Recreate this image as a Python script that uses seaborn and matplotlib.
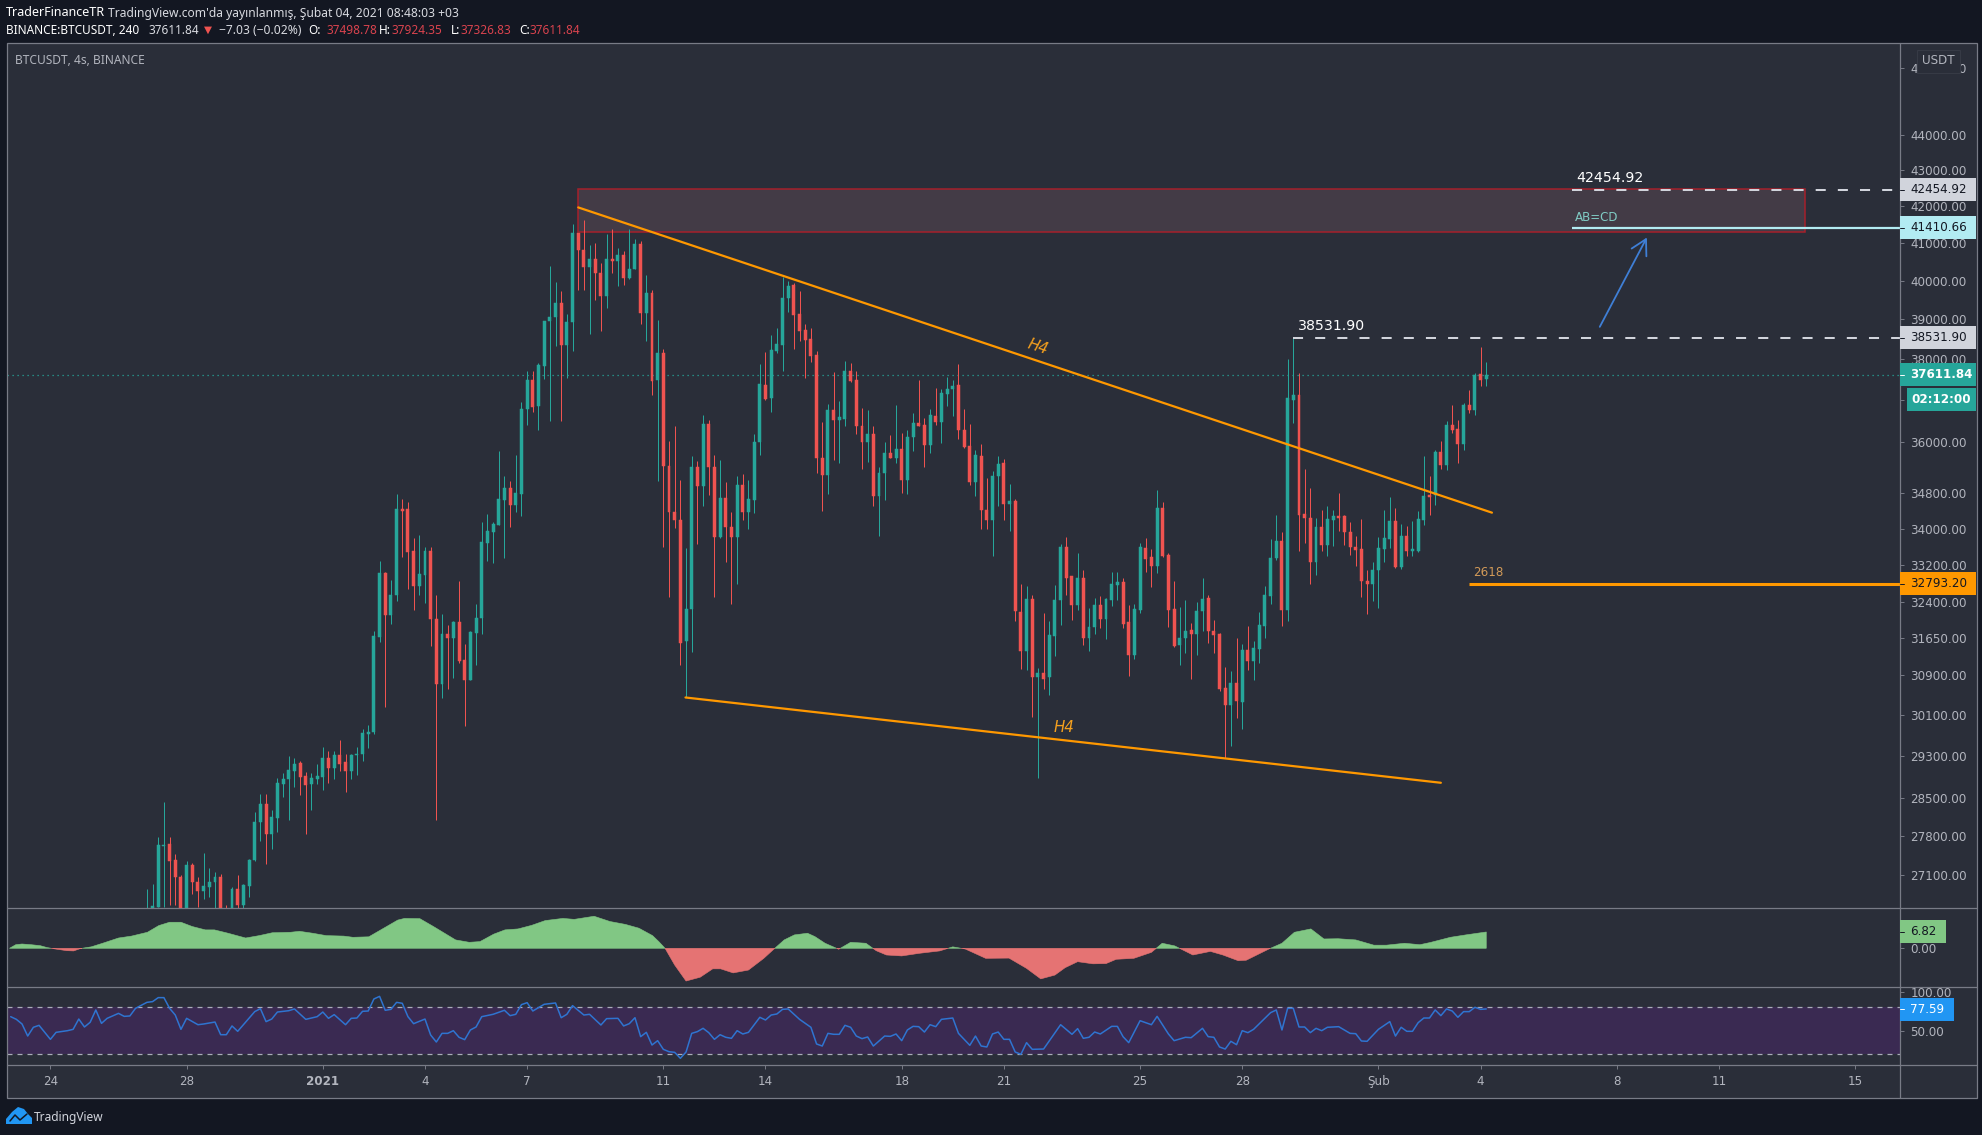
import matplotlib
matplotlib.use("Agg")
import matplotlib.pyplot as plt
import numpy as np
import pandas as pd
import seaborn as sns
from matplotlib.lines import Line2D
from matplotlib.patches import Polygon, Rectangle

first_bar = 17
opens = [
    26300, 26400, 26530, 27610, 27650, 27360, 27070, 26400, 27270, 26970,
    26820, 26890, 26965, 27070, 26450, 26400, 26850, 26575, 26910, 27360,
    28060, 28380, 27830, 28120, 28755, 28860, 29000, 29160, 28905, 28755,
    28860, 28895, 29265, 29060, 29305, 29175, 29010, 29315, 29330, 29715,
    29750, 31675, 33030, 32140, 32550, 34440, 34440, 33505, 32740, 32980,
    33505, 32055, 30710, 31730, 31650, 31980, 31200, 30790, 31760, 32070,
    33675, 33925, 34080, 34650, 34920, 34540, 34790, 36780, 37480, 36845,
    37825, 38955, 39050, 39425, 38345, 38930, 41280, 40810, 40360, 40580,
    40210, 39615, 40580, 40520, 40670, 40060, 40315, 40985, 39165, 39685,
    37480, 38155, 35435, 34385, 34205, 31580, 32260, 35405, 34970, 36415,
    35405, 33810, 34690, 34040, 33810, 34995, 34370, 34655, 35990, 37360,
    37030, 38195, 38345, 39540, 39900, 39150, 38725, 38490, 38110, 35610,
    35210, 36745, 36520, 36545, 37700, 37470, 36360, 35980, 36180, 34745,
    35265, 35730, 35610, 35825, 35095, 36100, 36440, 36400, 35925, 36615,
    36455, 37150, 37250, 37350, 36280, 35905, 35050, 35665, 34430, 34190,
    35190, 35490, 34560, 34630, 32190, 31380, 32475, 30850, 30935, 30850,
    31700, 32450, 33595, 32955, 32350, 32920, 31650, 31880, 32350, 32050,
    32450, 32770, 32830, 31975, 31290, 32240, 33575, 33370, 33170, 34465,
    33410, 32260, 31515, 31650, 31810, 31740, 32205, 32490, 31790, 31740,
    30630, 30300, 30735, 30345, 31400, 31175, 31425, 31905, 32540, 33355,
    33735, 32240, 37005, 37125, 34330, 34240, 33260, 34040, 33650, 34200,
    34290, 34275, 33920, 33595, 33560, 32860, 32795, 33085, 33560, 33780,
    34180, 33150, 33845, 33500, 33515, 34200, 34770, 34770, 35755, 35460,
    36400, 36300, 35950, 36860, 36760, 37620, 37498.78,
]
closes = [
    26400, 26560, 27630, 27630, 27340, 27060, 26400, 27270, 26970, 26820,
    26900, 26970, 27070, 26400, 26300, 26850, 26575, 26915, 27370, 28060,
    28380, 27830, 28140, 28780, 28860, 29020, 29150, 28895, 28735, 28880,
    28905, 29265, 29060, 29310, 29150, 29000, 29315, 29340, 29730, 29755,
    31690, 33030, 32140, 32565, 34440, 34400, 33490, 32740, 33000, 33505,
    32055, 30710, 31730, 31650, 31980, 31180, 30790, 31775, 32075, 33705,
    33950, 34100, 34665, 34920, 34540, 34805, 36780, 37480, 36830, 37840,
    38970, 39065, 39425, 38345, 38935, 41280, 40810, 40360, 40580, 40210,
    39615, 40580, 40520, 40670, 40060, 40315, 40985, 39165, 39685, 37455,
    38155, 35420, 34370, 34190, 31545, 32260, 35405, 34970, 36415, 35405,
    33810, 34690, 34040, 33810, 34995, 34370, 34670, 35990, 37375, 37025,
    38215, 38365, 39555, 39875, 39125, 38700, 38465, 38085, 35610, 35210,
    36745, 36520, 36585, 37700, 37455, 36360, 35980, 36180, 34745, 35265,
    35730, 35610, 35825, 35095, 36110, 36440, 36360, 35925, 36640, 36455,
    37170, 37265, 37335, 36265, 35870, 35050, 35690, 34415, 34190, 35205,
    35480, 34550, 34630, 32205, 31380, 32475, 30855, 30935, 30820, 31720,
    32450, 33595, 32930, 32350, 32920, 31650, 31880, 32350, 32050, 32475,
    32795, 32835, 31950, 31290, 32260, 33590, 33340, 33170, 34465, 33390,
    32240, 31480, 31650, 31790, 31740, 32220, 32475, 31790, 31720, 30610,
    30300, 30735, 30365, 31410, 31175, 31445, 31915, 32560, 33355, 33735,
    32240, 37045, 37125, 34300, 34230, 33260, 34030, 33650, 34215, 34290,
    34250, 33920, 33590, 33535, 32845, 32795, 33100, 33575, 33795, 34180,
    33150, 33845, 33515, 33550, 34215, 34730, 34715, 35755, 35460, 36400,
    36280, 35950, 36860, 36760, 37610, 37490, 37611.84,
]
highs = [
    26850, 26940, 27780, 28430, 27780, 27480, 27090, 27340, 27310, 27060,
    27490, 27230, 27150, 27120, 26575, 26890, 27090, 26930, 27390, 28230,
    28580, 28570, 28285, 28880, 28970, 29290, 29265, 29195, 28990, 28975,
    29150, 29470, 29385, 29385, 29600, 29340, 29330, 29470, 29815, 29890,
    31800, 33285, 33050, 32870, 34780, 34680, 34605, 33805, 33860, 33600,
    33600, 32550, 32160, 31920, 32010, 32855, 31525, 31800, 32360, 34160,
    34340, 34155, 35780, 35200, 35070, 35690, 36940, 37700, 37700, 37905,
    38970, 40385, 39970, 39725, 39140, 41505, 41280, 41615, 40940, 41010,
    40475, 41250, 41390, 40875, 40785, 41370, 41100, 41055, 40140, 39770,
    38995, 38255, 36005, 36375, 35110, 33575, 35650, 35535, 36640, 36505,
    35690, 35555, 35050, 34370, 35190, 35250, 35110, 36185, 37865, 38180,
    38615, 38785, 40105, 39990, 39945, 39725, 38870, 38785, 38195, 36455,
    36885, 37675, 36965, 37945, 37890, 37700, 36800, 36760, 36360, 35405,
    35980, 36165, 36860, 36200, 36265, 36685, 37480, 36560, 36780, 37290,
    37250, 37550, 37470, 37865, 36780, 36425, 35805, 35950, 35150, 35320,
    35650, 35600, 35020, 34670, 32795, 32750, 32560, 31040, 32170, 32000,
    32775, 33660, 33815, 32955, 33465, 33100, 32275, 32490, 32540, 32490,
    33060, 33040, 32915, 32350, 32370, 33680, 33795, 33550, 34880, 34600,
    33465, 32845, 32310, 32450, 31960, 32400, 32920, 32560, 32030, 31760,
    31060, 30970, 31650, 31530, 31890, 31585, 32190, 32750, 33770, 34315,
    33920, 37990, 38531.9, 37650, 35360, 34920, 34240, 34425, 34500, 34410,
    34805, 34315, 34140, 33830, 34215, 33085, 33260, 33815, 34425, 34715,
    34465, 34110, 34070, 34165, 34400, 35670, 35205, 35810, 36010, 36480,
    36860, 36520, 36920, 37230, 37660, 38290, 37924.35,
]
lows = [
    26200, 26300, 26530, 26540, 26575, 26575, 26300, 26350, 26760, 26530,
    26675, 26715, 26450, 26350, 26200, 26350, 26450, 26450, 26715, 27340,
    27710, 27300, 27560, 27875, 28510, 28090, 28705, 28550, 27830, 28285,
    28755, 28655, 28780, 28850, 29010, 28615, 28850, 28925, 29195, 29440,
    29715, 31570, 30255, 31940, 32430, 33365, 32690, 32230, 32565, 32385,
    31485, 28100, 30420, 30600, 30825, 31130, 29875, 30790, 31095, 31730,
    33285, 33255, 34080, 33355, 34040, 34370, 34280, 36400, 36700, 36280,
    37495, 36480, 38320, 36480, 37535, 38210, 39770, 39770, 38640, 39495,
    38700, 39285, 40210, 39860, 39900, 40050, 40300, 38870, 38450, 37105,
    35090, 33595, 32515, 34020, 31100, 30440, 31370, 33670, 34505, 34765,
    32515, 33795, 33260, 32370, 32780, 34190, 33995, 34355, 35690, 36990,
    36700, 38155, 37700, 39200, 38240, 38450, 37535, 37920, 35265, 34395,
    34790, 35575, 35495, 36360, 37440, 36185, 35360, 35510, 34505, 33835,
    34655, 35610, 35495, 34805, 34790, 35770, 36360, 35405, 35730, 36400,
    35965, 36845, 36600, 36060, 35845, 34995, 34730, 33995, 33995, 33390,
    34505, 34200, 33960, 32000, 31015, 31000, 30050, 28870, 30600, 30480,
    31275, 31930, 32560, 32030, 32240, 31495, 31380, 31740, 31860, 31620,
    32325, 32450, 31860, 30880, 31220, 32170, 33040, 32725, 33025, 33370,
    31880, 31465, 31095, 31345, 30820, 31290, 31790, 31550, 31345, 30565,
    29255, 29480, 30030, 29820, 31000, 30800, 31140, 31650, 32370, 33315,
    31905, 32000, 36450, 33500, 33680, 32795, 32990, 33500, 33390, 33610,
    33940, 33650, 33430, 33190, 32520, 32150, 32420, 32275, 33265, 33575,
    33135, 33120, 33405, 33390, 33480, 34075, 34315, 34540, 35360, 35345,
    36205, 35500, 35790, 36680, 36620, 37340, 37326.83,
]

osc_bars = [
    -7.2, -6.1, -5, -3.4, -1.8, -0.6, 0.9, 2.9, 4.1, 5.3, 7.2, 9.2, 12, 14.3, 17.1, 19.1, 21, 23, 25,
    27.3, 28.9, 31.3, 34.4, 36.8, 39.1, 42.3, 43.9, 46.2, 48.6, 51.7, 53.3, 56.1, 58, 61.2, 62.4, 65.1,
    67.5, 71.4, 73.8, 75.7, 78.1, 80.1, 82.4, 84.8, 87.2, 90.3, 92.3, 95.8, 98.6, 101.3, 103.7, 106.1,
    107.2, 108.3, 110, 112, 114.5, 116.7, 118.1, 120.3, 123, 125.7, 127.5, 129.3, 131.1, 133.4, 134.7,
    136.5, 138.9, 141, 143.7, 145.5, 147.3, 150, 153.1, 156.7, 159, 161.2, 164.8, 168.9, 172, 174.5,
    177, 178.8, 181, 183.7, 186, 187.8, 190.9, 194, 195.9, 198.1, 201.3, 204.4, 206.6, 209.3, 210.7,
    214.7, 217, 219.2, 222.1, 224.4, 226.9, 230, 233.2, 235.4, 238.6, 241.3, 243.1, 246.7, 249.4, 253,
]
osc_values = [
    0, 1.5, 1.8, 1.5, 1.1, 0.3, -0.3, -1.0, -1.1, -0.1, 0.6, 2.1, 4.3, 5.1, 6.7, 9.5, 10.9, 10.9, 9.1,
    7.7, 7.7, 6.3, 4.3, 5.3, 6.5, 6.7, 7.1, 6.3, 5.3, 5.1, 4.6, 4.8, 7.4, 11.8, 12.5, 12.4,
    9.1, 3.5, 2.5, 2.8, 5.9, 7.7, 8.1, 9.6, 11.6, 12.5, 12.1, 13.4, 11.2, 10, 8.4, 5.3,
    2.8, 0, -7, -13.7, -12.1, -8.6, -8.6, -10.3, -9.1, -4.2, -0.3, 3.5, 5.6, 6.3, 4.9,
    2.1, -0.4, 2.5, 2.1, -1, -2.8, -3.2, -2.1, -1.1, 0.6, -0.3, -4.2, -4.1, -8.4, -12.8,
    -11.2, -8.1, -5.6, -6.5, -6.4, -4.6, -4.2, -1.7, 2.1, 1, -2.8, -1.3, -2.8, -5.2, -5,
    -0.3, 2.1, 6.7, 8.1, 3.9, 4, 3.5, 1.3, 1.3, 2.1, 1.5, 2.4, 4.6, 5.6, 6.82,
]

rsi_bars = [
    -7, -6, -5, -4, -3, -2, 0, 1, 3, 4, 5, 6, 7, 8, 9, 10, 12, 13, 14, 15, 17, 18, 19, 20, 21, 22, 23, 24,
    26, 27, 29, 30, 31, 32, 33, 36, 37, 38, 39, 40, 42, 43, 45, 46, 47, 48, 49, 50, 52, 53, 54, 55, 56, 57,
    58, 59, 60, 61, 62, 63, 64, 66, 67, 68, 69, 70, 71, 72, 73, 74, 75, 76, 78, 80, 81, 82, 83, 84, 85, 87,
    89, 90, 91, 92, 94, 95, 97, 98, 100, 101, 102, 103, 104, 105, 106, 107, 108, 109, 110, 111, 112, 113,
    114, 115, 116, 117, 118, 119, 120, 121, 122, 123, 125, 126, 127, 128, 129, 130, 132, 133, 134, 135,
    136, 137, 138, 139, 140, 141, 142, 143, 144, 145, 147, 148, 149, 150, 151, 152, 153, 154, 155, 156,
    157, 159, 160, 162, 163, 164, 165, 166, 167, 168, 169, 170, 171, 172, 173, 175, 178, 180, 181, 182,
    183, 184, 185, 187, 188, 189, 190, 192, 194, 195, 197, 198, 200, 201, 203, 204, 205, 206, 207, 208,
    209, 210, 211, 212, 215, 216, 217, 218, 219, 220, 221, 222, 223, 224, 225, 227, 229, 230, 231, 232,
    234, 236, 237, 238, 239, 240, 241, 242, 243, 244, 245, 246, 247, 248, 249, 250, 251, 252, 253,
]
rsi_values = [
    68.2, 64.8, 58.9, 43.6, 54.7, 57.2, 39.4, 48.3, 50.4, 52.1, 65.2, 55.1, 61, 76.7, 59.7, 66.1, 72.4, 68.6,
    69.1, 78.8, 86.4, 87.3, 92.4, 92.4, 78.8, 70.3, 52.1, 66.1,
    58, 58.9, 61.4, 45.3, 45.3, 56.4, 49.6, 74.6, 78.4, 61.9, 65.2, 74.1, 75.8, 78, 64.8, 66.5, 68.2, 74.1,
    66.1, 70.8, 58, 66.1, 66.5, 75, 75.4, 90.7,
    94, 76.3, 77.5, 86.4, 85.2, 68.2, 59.3, 65.2, 44.9, 36, 47, 47, 50.4, 42, 39, 51.3, 55.1, 68.2, 71.2,
    76.3, 69.5, 71.2, 83.5, 86, 75.4, 83.9,
    85.6, 66.9, 71.2, 82.2, 70.3, 71.2, 57.6, 65.7, 66.1, 56.4, 59.3, 66.9, 42.8, 48.3, 32.2, 37.7, 26.7,
    23.7, 22.9, 15.3, 23.3, 47,
    49.2, 53.4, 47.9, 39.4, 45.3, 42, 40.7, 50.4, 46.2, 48.3, 67.4, 64, 70.3, 71.6, 77.5, 78, 64.8, 59.7,
    54.7, 33.5,
    30.9, 47, 45.8, 45.8, 57.2, 54.7, 43.6, 40.3, 42.4, 30.9, 43.6, 43.2, 46.2, 37.7, 51.3, 55.9, 55.5,
    48.7, 58, 55.5,
    64.8, 66.5, 47, 31.8, 43.6, 30.9, 29.7, 46.2, 48.7, 39.4, 39.4, 23.3, 20.4, 35.2, 26.7, 27.1, 58, 45.8,
    53, 40.7,
    42, 48.7, 46.2, 55.9, 55.9, 42.8, 35.2, 63.1, 58, 68.6, 46.2, 37.7, 42, 41.5, 53.4, 42.8, 42, 29.7,
    27.1, 36.9,
    32.6, 50.4, 47.9, 52.1, 73.3, 76.7, 51.3, 78.8, 78.8, 55.1, 55.1, 47.9, 53.4, 50.4, 54.7, 55.5, 47,
    46.6, 37.3, 36.9,
    52.1, 61.9, 43.6, 54.7, 49.6, 49.6, 60.6, 66.5, 66.5, 76.7, 69.5, 78, 75.4, 67.4, 74.6, 74.6, 80.1,
    77.5, 78,
]

price_ticks = [46000, 44000, 43000, 42000, 41000, 40000, 39000, 38000, 37000, 36000, 34800, 34000,
               33200, 32400, 31650, 30900, 30100, 29300, 28500, 27800, 27100]
date_ticks = [0, 24, 48, 66, 84, 108, 126, 150, 168, 192, 210, 234, 252, 276, 294, 318]
date_labels = ["24", "28", "2021", "4", "7", "11", "14", "18", "21", "25", "28", "Şub", "4", "8", "11", "15"]

PANE = "#2a2e39"
OUTER = "#131722"
FRAME = "#787b86"
TICK = "#b2b5be"
UP = "#26a69a"
DOWN = "#ef5350"
ORANGE = "#ff9800"
LIGHT = "#d1d4dc"
W, H = 1983, 1135

sns.set_theme(style="dark", rc={"axes.facecolor": PANE, "figure.facecolor": OUTER})
plt.rcParams["font.family"] = "DejaVu Sans"

fig = plt.figure(figsize=(W / 100, H / 100), dpi=100)


def pane(y_top, y_bottom):
    ax = fig.add_axes([7 / W, 1 - y_bottom / H, (1900 - 7) / W, (y_bottom - y_top) / H])
    for side in ax.spines:
        ax.spines[side].set_visible(False)
    ax.set_xlim(-7.648, 325.9)
    ax.set_xticks([])
    ax.yaxis.tick_right()
    ax.tick_params(axis="y", right=True, length=3, width=0.7, color=FRAME, colors=TICK, labelsize=8.6, pad=4.5)
    ax.set_xlabel("")
    ax.set_ylabel("")
    ax.grid(False)
    return ax


def fig_text(x, y, text, **kwargs):
    kwargs.setdefault("va", "center")
    kwargs.setdefault("zorder", 8)
    return fig.text(x / W, 1 - y / H, text, **kwargs)


def fig_line(xs, ys, color=FRAME, lw=0.9, zorder=3):
    fig.add_artist(Line2D(np.array(xs) / W, 1 - np.array(ys) / H, transform=fig.transFigure,
                          color=color, lw=lw, zorder=zorder))


def price_tag(ax, value, text, bg, fg, right=1976, bold=False, y=None, left=1900, text_x=1910):
    if y is None:
        y = H - ax.transData.transform((0, value))[1]
    fig.add_artist(Rectangle((left / W, 1 - (y + 11.5) / H), (right - left) / W, 23 / H,
                             transform=fig.transFigure, facecolor=bg, edgecolor="none", zorder=6))
    if left == 1900:
        fig_line([1900, 1904], [y, y], color=fg, lw=0.7, zorder=7)
    fig_text(text_x, y, text, color=fg, fontsize=8.6, fontweight="bold" if bold else "normal")


# background panel behind the three panes and the time scale
fig.add_artist(Rectangle((7 / W, 1 - 1098 / H), (1977 - 7) / W, (1098 - 43) / H, transform=fig.transFigure,
                         facecolor=PANE, edgecolor="none", zorder=-1))

ax_main = pane(43, 908)
ax_osc = pane(908, 987)
ax_rsi = pane(987, 1065)

# candles
candles = pd.DataFrame({"open": opens, "high": highs, "low": lows, "close": closes})
candles["bar"] = np.arange(first_bar, first_bar + len(candles))
candles["color"] = np.where(candles["close"] >= candles["open"], UP, DOWN)
candles["top"] = candles[["open", "close"]].max(axis=1)
candles["bottom"] = candles[["open", "close"]].min(axis=1)

ax_main.set_yscale("log")
ax_main.vlines(candles["bar"], candles["low"], candles["high"], colors=candles["color"], linewidth=0.72, zorder=3)
ax_main.bar(candles["bar"], candles["top"] - candles["bottom"], bottom=candles["bottom"], width=0.52,
            color=candles["color"], edgecolor=candles["color"], linewidth=0.35, zorder=4)
ax_main.set_ylim(26517, 46745)
ax_main.set_yticks(price_ticks)
ax_main.set_yticklabels([f"{t:.2f}" for t in price_ticks])
ax_main.minorticks_off()
ax_main.tick_params(axis="y", which="minor", right=False)

# last price, zone and levels
ax_main.axhline(37611.84, color=UP, linewidth=0.9, linestyle=(0, (1, 3)), zorder=2)
ax_main.add_patch(Rectangle((93, 41290), 216.2, 42490 - 41290, facecolor="#433b46", edgecolor="#a5202b",
                            linewidth=1.1, zorder=2))
dash = (0, (5, 6))
ax_main.hlines(42454.92, 268.1, 325.9, color=LIGHT, linewidth=1.45, linestyle=dash, zorder=5)
ax_main.hlines(38531.90, 219, 325.9, color=LIGHT, linewidth=1.45, linestyle=dash, zorder=5)
ax_main.hlines(41410.66, 268.1, 325.9, color="#b2ebf2", linewidth=1.6, zorder=5)
ax_main.hlines(32793.20, 250, 325.9, color=ORANGE, linewidth=2.2, zorder=5)
ax_main.plot([93, 254], [41970, 34360], color=ORANGE, linewidth=1.6, zorder=5)
ax_main.plot([111.9, 245], [30440, 28785], color=ORANGE, linewidth=1.6, zorder=5)
ax_main.annotate("", xy=(281.3, 41150), xytext=(273, 38810), zorder=5,
                 arrowprops=dict(arrowstyle="->,head_length=0.9,head_width=0.5", color="#3f7fd6", lw=1.3,
                                 shrinkA=0, shrinkB=0))

# oscillator
osc_x = np.array(osc_bars)
osc_y = np.array(osc_values)
ax_osc.fill_between(osc_x, osc_y, 0, where=osc_y >= 0, interpolate=True, color="#81c784", linewidth=0.4)
ax_osc.fill_between(osc_x, osc_y, 0, where=osc_y <= 0, interpolate=True, color="#e57373", linewidth=0.4)
ax_osc.set_ylim(-16.2, 16.86)
ax_osc.set_yticks([0])
ax_osc.set_yticklabels(["0.00"])

# rsi
ax_rsi.axhspan(20.4, 80, color="#3a2a52", linewidth=0, zorder=1)
for level in (20.4, 80):
    ax_rsi.axhline(level, color="#a9acb8", linewidth=0.9, linestyle=(0, (4, 4)), zorder=2)
sns.lineplot(x=rsi_bars, y=rsi_values, ax=ax_rsi, color="#2f74d0", linewidth=1.1, estimator=None, zorder=3)
ax_rsi.set_ylim(6.8, 105.9)
ax_rsi.set_yticks([100, 50])
ax_rsi.set_yticklabels(["100.00", "50.00"])
ax_rsi.set_xlim(-7.648, 325.9)
ax_rsi.set_xlabel("")
ax_rsi.set_ylabel("")
ax_rsi.set_xticks(date_ticks)
ax_rsi.set_xticklabels(date_labels)
ax_rsi.tick_params(axis="x", bottom=True, length=3, width=0.7, color=FRAME, colors=TICK, labelsize=8.6, pad=4.5)
ax_rsi.get_xticklabels()[2].set_fontweight("bold")

# frame, pane dividers and the price axis line
fig.add_artist(Rectangle((7 / W, 1 - 1098 / H), (1977 - 7) / W, (1098 - 43) / H, transform=fig.transFigure,
                         facecolor="none", edgecolor=FRAME, linewidth=0.9, zorder=3))
for divider in (908, 987, 1065):
    fig_line([7, 1977], [divider, divider])
fig_line([1900, 1900], [43, 1098])

# price scale tags
price_tag(ax_main, 42454.92, "42454.92", LIGHT, "#131722")
price_tag(ax_main, 41410.66, "41410.66", "#b2ebf2", "#131722")
price_tag(ax_main, 38531.90, "38531.90", LIGHT, "#131722")
price_tag(ax_main, 37611.84, "37611.84", UP, "#ffffff", bold=True)
price_tag(ax_main, None, "02:12:00", UP, "#ffffff", bold=True, y=399.5, left=1907, text_x=1911)
price_tag(ax_main, 32793.20, "32793.20", ORANGE, "#131722")
price_tag(ax_osc, 6.82, "6.82", "#81c784", "#131722", right=1946.5)
price_tag(ax_rsi, 77.59, "77.59", "#2196f3", "#ffffff", right=1954)

fig.add_artist(Rectangle((1917 / W, 1 - 73 / H), 43 / W, 23 / H, transform=fig.transFigure,
                         facecolor=PANE, edgecolor="#363a45", linewidth=0.8, zorder=6))
fig_text(1938.5, 61, "USDT", color=TICK, fontsize=8.6, ha="center")

# drawing labels
fig_text(1576, 177.5, "42454.92", color="#ffffff", fontsize=10.2)
fig_text(1298, 326, "38531.90", color="#ffffff", fontsize=10.2)
fig_text(1575, 217.5, "AB=CD", color="#80cbc4", fontsize=8.6)
fig_text(1473, 573, "2618", color="#d29a58", fontsize=8.6)
fig_text(1038, 347, "H4", color="#f5a01e", fontsize=10.8, style="italic", rotation=-18, ha="center")
fig_text(1064, 727, "H4", color="#f5a01e", fontsize=10.8, style="italic", ha="center")

# header
sans = "Noto Sans"
fig_text(15, 61, "BTCUSDT, 4s, BINANCE", color=TICK, fontsize=8.6, family=sans)
fig_text(6, 13, "TraderFinanceTR", color="#ffffff", fontsize=9.0, family=sans, fontweight="bold")
fig_text(108, 13, "TradingView.com'da yayınlanmış, Şubat 04, 2021 08:48:03 +03", color="#d8dae0", fontsize=8.7,
         family=sans)
fig_text(6, 30, "BINANCE:BTCUSDT, 240", color="#ffffff", fontsize=8.5, family=sans, fontweight="bold")
fig_text(149, 30, "37611.84", color="#d8dae0", fontsize=8.5, family=sans)
fig_text(204, 30, "▼", color="#ef5350", fontsize=7.5, family="DejaVu Sans")
fig_text(219, 30, "−7.03 (−0.02%)", color="#d8dae0", fontsize=8.7, family=sans)
for x_label, label, x_value, value in [(308, "O:", 327, "37498.78"), (379, "H:", 392, "37924.35"),
                                       (451, "L:", 461, "37326.83"), (519, "C:", 530, "37611.84")]:
    fig_text(x_label, 30, label, color="#ffffff", fontsize=8.5, family=sans, fontweight="bold")
    fig_text(x_value, 30, value, color="#d9434e", fontsize=8.5, family=sans)

# footer logo
logo = np.array([(6, 1124), (6, 1119), (12, 1112), (18, 1107), (24, 1109), (28, 1114), (32, 1118), (32, 1124)], dtype=float)
fig.add_artist(Polygon(np.c_[logo[:, 0] / W, 1 - logo[:, 1] / H], closed=True, transform=fig.transFigure,
                       facecolor="#2196f3", edgecolor="none", zorder=6))
fig_line([10, 15, 20, 27], [1121, 1115, 1120, 1114], color=OUTER, lw=1.1, zorder=7)
fig_text(34, 1117, "TradingView", color="#d1d4dc", fontsize=8.6, family=sans)

fig.savefig("out.png", dpi=100, facecolor=OUTER)
